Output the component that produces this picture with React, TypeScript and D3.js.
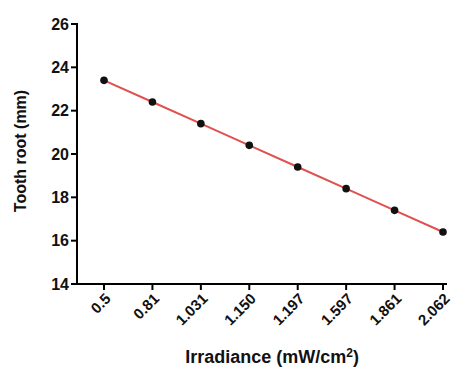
import React from 'react';
import * as d3 from 'd3';

const categories = ['0.5', '0.81', '1.031', '1.150', '1.197', '1.597', '1.861', '2.062'];
const toothRoot = [23.4, 22.4, 21.4, 20.4, 19.4, 18.4, 17.4, 16.4];
const yTicks = [14, 16, 18, 20, 22, 24, 26];

const App: React.FC = () => {
  const width = 463;
  const height = 374;
  const axisLeft = 77;
  const axisRight = 447;
  const top = 24;
  const bottom = 284;

  const x = d3.scalePoint<string>().domain(categories).range([104, 443]);
  const y = d3.scaleLinear().domain([14, 26]).range([bottom, top]);

  const line = d3.line<number>()
    .x((_, i) => x(categories[i]) || 0)
    .y(d => y(d));

  const font = 'Liberation Sans, Arial, sans-serif';

  return (
    <svg width={width} height={height} style={{ position: 'absolute', left: 0, top: 0, background: '#fff' }}>
      {/* Axes */}
      <line x1={axisLeft} x2={axisLeft} y1={top - 1} y2={bottom + 1} stroke="#000" strokeWidth={2} />
      <line x1={axisLeft - 1} x2={axisRight} y1={bottom} y2={bottom} stroke="#000" strokeWidth={2} />

      {yTicks.map(t => (
        <g key={t}>
          <line x1={axisLeft - 6} x2={axisLeft} y1={y(t)} y2={y(t)} stroke="#000" strokeWidth={2} />
          <text x={axisLeft - 8} y={y(t)} dy="0.36em" textAnchor="end" fontFamily={font} fontWeight="bold" fontSize={16} fill="#111">
            {t}
          </text>
        </g>
      ))}

      {categories.map(c => (
        <g key={c}>
          <line x1={x(c)} x2={x(c)} y1={bottom} y2={bottom + 6} stroke="#000" strokeWidth={2} />
          <text
            transform={`translate(${(x(c) || 0) + 4},${bottom + 12}) rotate(-45)`}
            textAnchor="end"
            dy="0.35em"
            fontFamily={font}
            fontWeight="bold"
            fontSize={15}
            fill="#111"
          >
            {c}
          </text>
        </g>
      ))}

      {/* Series */}
      <path d={line(toothRoot) || ''} fill="none" stroke="#e0504f" strokeWidth={2} />
      {toothRoot.map((v, i) => (
        <circle key={i} cx={x(categories[i])} cy={y(v)} r={3.8} fill="#111" />
      ))}

      {/* Axis titles */}
      <text x={272} y={363} textAnchor="middle" fontFamily={font} fontWeight="bold" fontSize={18} fill="#111">
        Irradiance (mW/cm<tspan dy="-6" fontSize={12}>2</tspan><tspan dy="6">)</tspan>
      </text>
      <text
        transform={`translate(26,151) rotate(-90)`}
        textAnchor="middle"
        fontFamily={font}
        fontWeight="bold"
        fontSize={16}
        fill="#111"
      >
        Tooth root (mm)
      </text>
    </svg>
  );
};

export default App;
